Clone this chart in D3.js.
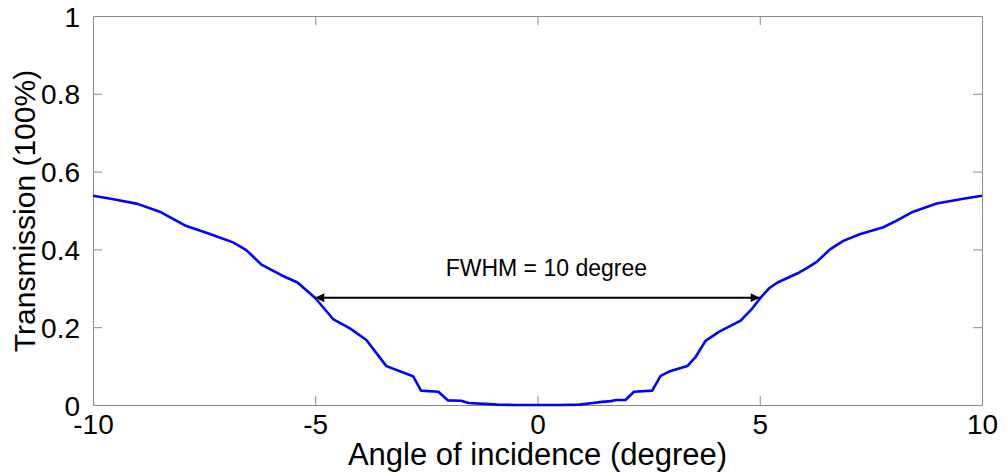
<!DOCTYPE html>
<html>
<head>
<meta charset="utf-8">
<script src="https://cdn.jsdelivr.net/npm/d3@7"></script>
<style>
  body { margin: 0; background: #fff; }
  svg { display: block; font-family: "Liberation Sans", Arial, sans-serif; }
</style>
</head>
<body>
<svg id="chart"></svg>
<script>
// angle of incidence (degree)
var angles = [-10, -9.6, -9.0, -8.5, -7.9, -7.4, -6.85, -6.55, -6.2, -5.75, -5.4, -5.0,
    -4.6, -4.22, -3.85, -3.4, -2.8, -2.62, -2.23, -2.02, -1.72, -1.55, -1.2, -0.9, -0.5,
    0, 0.5, 0.95, 1.25, 1.45, 1.65, 1.77, 1.98, 2.17, 2.58, 2.77, 2.96, 3.37, 3.56, 3.78,
    4.08, 4.57, 4.83, 5.02, 5.21, 5.4, 5.88, 6.05, 6.28, 6.58, 6.88, 7.25, 7.78, 8.08,
    8.45, 8.98, 9.58, 10];
// transmission (fraction of 100%)
var transmission = [0.538, 0.530, 0.517, 0.497, 0.460, 0.441, 0.418, 0.398, 0.360, 0.333, 0.315, 0.275,
    0.221, 0.197, 0.167, 0.100, 0.074, 0.037, 0.034, 0.012, 0.011, 0.005, 0.003, 0.001, 0,
    0, 0, 0.001, 0.005, 0.008, 0.010, 0.013, 0.013, 0.034, 0.037, 0.075, 0.086, 0.100, 0.124, 0.165,
    0.188, 0.217, 0.248, 0.276, 0.300, 0.315, 0.340, 0.351, 0.368, 0.400, 0.422, 0.439, 0.457, 0.474,
    0.497, 0.518, 0.530, 0.538];

var xTicks = [-10, -5, 0, 5, 10];
var yTicks = [0, 0.2, 0.4, 0.6, 0.8, 1];

// FWHM annotation
var fwhmFrom = -5, fwhmTo = 5, fwhmLevel = 0.276;
var fwhmLabel = "FWHM = 10 degree";

var data = angles.map(function(a, i) { return {angle: a, value: transmission[i]}; });

var margin = {top: 16, right: 26, bottom: 67, left: 93},
    width = 1008 - margin.left - margin.right,
    height = 472 - margin.top - margin.bottom;

var svg = d3.select("#chart")
    .attr("width", width + margin.left + margin.right)
    .attr("height", height + margin.top + margin.bottom)
    .append("g")
    .attr("transform", "translate(" + margin.left + "," + margin.top + ")");

var x = d3.scaleLinear().domain([-10, 10]).range([0, width]);
var y = d3.scaleLinear().domain([0, 1]).range([height, 0]);

var axisColor = "#8a8a8a";
var tickLen = 9;

// plain hyphen for negatives, like matlab does
var plain = function(d) { return String(+d.toFixed(1)); };

// bottom axis (ticks point inward)
var xAxis = svg.append("g")
    .attr("transform", "translate(0," + height + ")")
    .call(d3.axisBottom(x).tickValues(xTicks).tickFormat(plain)
        .tickSizeInner(-tickLen).tickSizeOuter(0).tickPadding(14));
// top axis ticks
var xTop = svg.append("g")
    .call(d3.axisTop(x).tickValues(xTicks).tickFormat("")
        .tickSizeInner(-tickLen).tickSizeOuter(0));
// left axis
var yAxis = svg.append("g")
    .call(d3.axisLeft(y).tickValues(yTicks).tickFormat(plain)
        .tickSizeInner(-tickLen).tickSizeOuter(0).tickPadding(13));
// right axis ticks
var yRight = svg.append("g")
    .attr("transform", "translate(" + width + ",0)")
    .call(d3.axisRight(y).tickValues(yTicks).tickFormat("")
        .tickSizeInner(-tickLen).tickSizeOuter(0));

[xAxis, xTop, yAxis, yRight].forEach(function(g) {
    g.select(".domain").attr("stroke", axisColor);
    g.selectAll(".tick line").attr("stroke", axisColor);
    g.selectAll(".tick text")
        .attr("fill", "#000")
        .attr("font-size", "28px")
        .attr("font-family", "Liberation Sans, Arial, sans-serif");
});
xAxis.selectAll(".tick text").attr("dy", "0.55em");
yAxis.selectAll(".tick text").attr("dy", "0.36em");

// hide the end ticks that sit on the box edges
xAxis.selectAll(".tick line").filter(function(d) { return d === -10 || d === 10; }).remove();
xTop.selectAll(".tick line").filter(function(d) { return d === -10 || d === 10; }).remove();
yAxis.selectAll(".tick line").filter(function(d) { return d === 0 || d === 1; }).remove();
yRight.selectAll(".tick line").filter(function(d) { return d === 0 || d === 1; }).remove();

// curve
var line = d3.line()
    .x(function(d) { return x(d.angle); })
    .y(function(d) { return y(d.value); });

svg.append("path")
    .datum(data)
    .attr("fill", "none")
    .attr("stroke", "#0000ff")
    .attr("stroke-width", 2.6)
    .attr("stroke-linejoin", "round")
    .attr("d", line);

// FWHM arrow
svg.append("defs").append("marker")
    .attr("id", "head")
    .attr("viewBox", "0 0 10 10")
    .attr("refX", 10)
    .attr("refY", 5)
    .attr("markerUnits", "userSpaceOnUse")
    .attr("markerWidth", 13)
    .attr("markerHeight", 9)
    .attr("orient", "auto-start-reverse")
    .append("path")
    .attr("d", "M0,0 L10,5 L0,10 Z")
    .attr("fill", "#000");

svg.append("line")
    .attr("x1", x(fwhmFrom))
    .attr("x2", x(fwhmTo))
    .attr("y1", y(fwhmLevel))
    .attr("y2", y(fwhmLevel))
    .attr("stroke", "#000")
    .attr("stroke-width", 2)
    .attr("marker-start", "url(#head)")
    .attr("marker-end", "url(#head)");

svg.append("text")
    .attr("x", x(0.2))
    .attr("y", y(fwhmLevel) - 22)
    .attr("text-anchor", "middle")
    .attr("font-size", "23px")
    .attr("fill", "#000")
    .text(fwhmLabel);

// axis labels
svg.append("text")
    .attr("x", width / 2)
    .attr("y", height + 60)
    .attr("text-anchor", "middle")
    .attr("font-size", "31px")
    .attr("fill", "#000")
    .text("Angle of incidence (degree)");

svg.append("text")
    .attr("transform", "rotate(-90)")
    .attr("x", -(211 - margin.top))
    .attr("y", 35 - margin.left)
    .attr("text-anchor", "middle")
    .attr("font-size", "30px")
    .attr("fill", "#000")
    .text("Transmission (100%)");
</script>
</body>
</html>
